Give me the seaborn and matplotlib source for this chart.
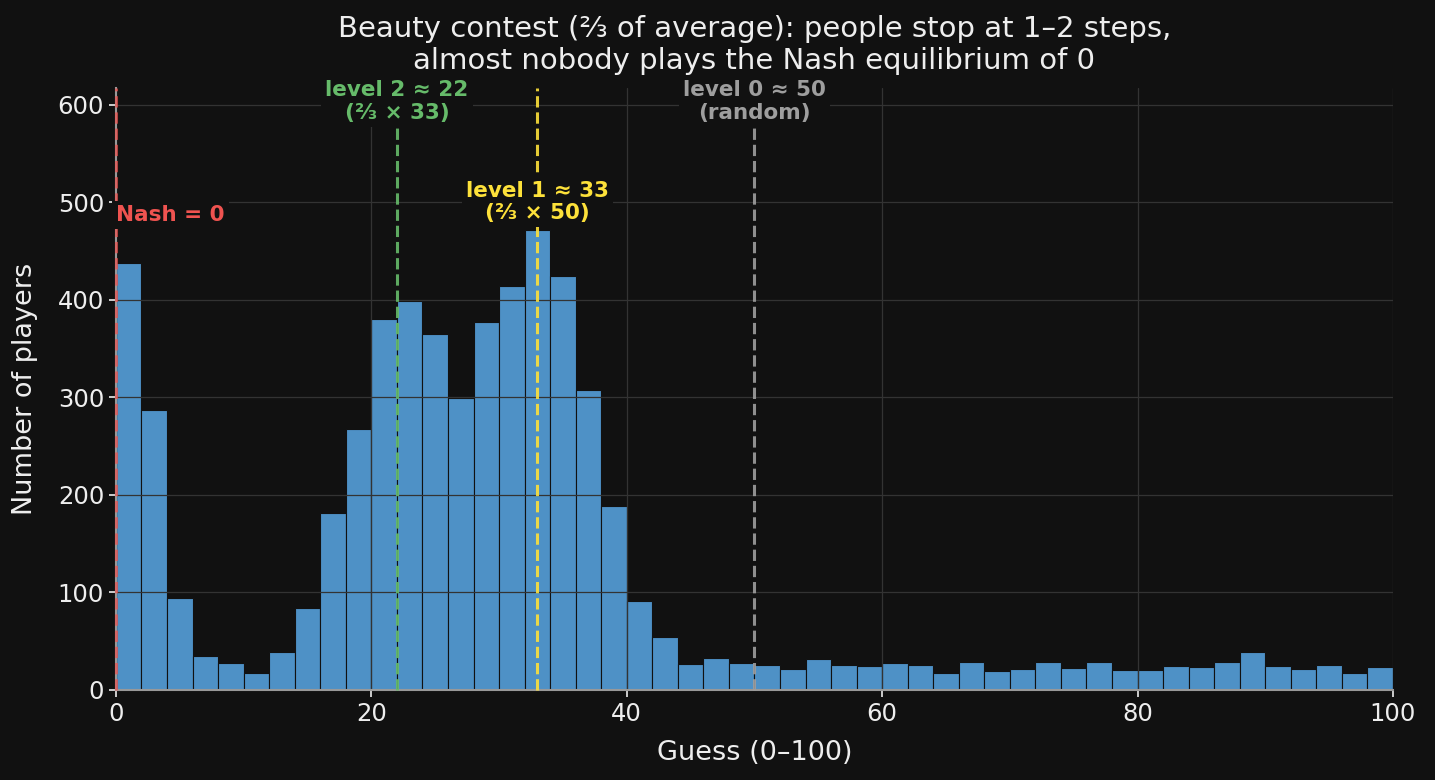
import numpy as np
import pandas as pd
import seaborn as sns
import matplotlib.pyplot as plt

# histogram of guesses, bins of width 2 from 0 to 100
bin_left = list(range(0, 100, 2))
counts = [438, 287, 94, 35, 28, 17, 39, 84, 181, 268,
          380, 399, 365, 299, 377, 414, 471, 424, 307, 189,
          91, 54, 27, 33, 28, 26, 22, 32, 26, 25,
          28, 26, 17, 29, 19, 22, 29, 23, 29, 20,
          20, 25, 24, 29, 39, 25, 21, 26, 17, 24]

# reference lines: x, colour, label, label height
ref_x = [0, 33, 22, 50]
ref_colors = ["#ef5350", "#fde13a", "#66bb6a", "#9e9e9e"]
ref_labels = ["Nash = 0", "level 1 \u2248 33\n(\u2154 \u00d7 50)",
              "level 2 \u2248 22\n(\u2154 \u00d7 33)", "level 0 \u2248 50\n(random)"]
ref_label_y = [487, 500, 603, 603]

BG = "#111111"

sns.set_theme(style="dark")
plt.rcParams["font.family"] = ["DejaVu Sans"]

df = pd.DataFrame({"guess": np.array(bin_left) + 1, "n": counts})

fig = plt.figure(figsize=(14.35, 7.8), dpi=100, facecolor=BG)
ax = fig.add_axes([0.0808, 0.1154, 0.8899, 0.7718])
ax.set_facecolor(BG)

sns.histplot(data=df, x="guess", weights="n", binwidth=2, binrange=(0, 100), ax=ax,
             color="#4e91c6", alpha=1.0, edgecolor=BG, linewidth=0.8, zorder=2)

ax.set_xlim(0, 100)
ax.set_ylim(0, 617)
ax.set_yticks(range(0, 700, 100))

ax.grid(True, color="#333333", linewidth=0.9, zorder=3)
ax.set_axisbelow(False)

for s in ["top", "right"]:
    ax.spines[s].set_visible(False)
for s in ["left", "bottom"]:
    ax.spines[s].set_color("#999999")
    ax.spines[s].set_linewidth(1.5)
    ax.spines[s].set_zorder(5)

for i, (x, c, lab, ly) in enumerate(zip(ref_x, ref_colors, ref_labels, ref_label_y)):
    a = 0.7 if i == 0 else 0.9
    ax.axvline(x, color=c, linestyle="--", linewidth=2.2, alpha=a, zorder=6, clip_on=False)
    ha = "left" if i == 0 else "center"
    ax.text(x, ly, lab, color=c, ha=ha, va="center", fontsize=15.5, fontweight="bold",
            linespacing=1.15, zorder=7,
            bbox=dict(facecolor=BG, edgecolor="none", pad=3))

ax.tick_params(colors="#eeeeee", labelsize=17.5, length=5, width=1.2, left=True, bottom=True)
ax.set_xlabel("Guess (0\u2013100)", color="#eeeeee", fontsize=19.5, labelpad=10)
ax.set_ylabel("Number of players", color="#eeeeee", fontsize=19.5, labelpad=14)
ax.set_title("Beauty contest (\u2154 of average): people stop at 1\u20132 steps,\n"
             "almost nobody plays the Nash equilibrium of 0",
             color="#eeeeee", fontsize=21, linespacing=1.15, pad=14)

fig.savefig("out.png", dpi=100, facecolor=BG)
